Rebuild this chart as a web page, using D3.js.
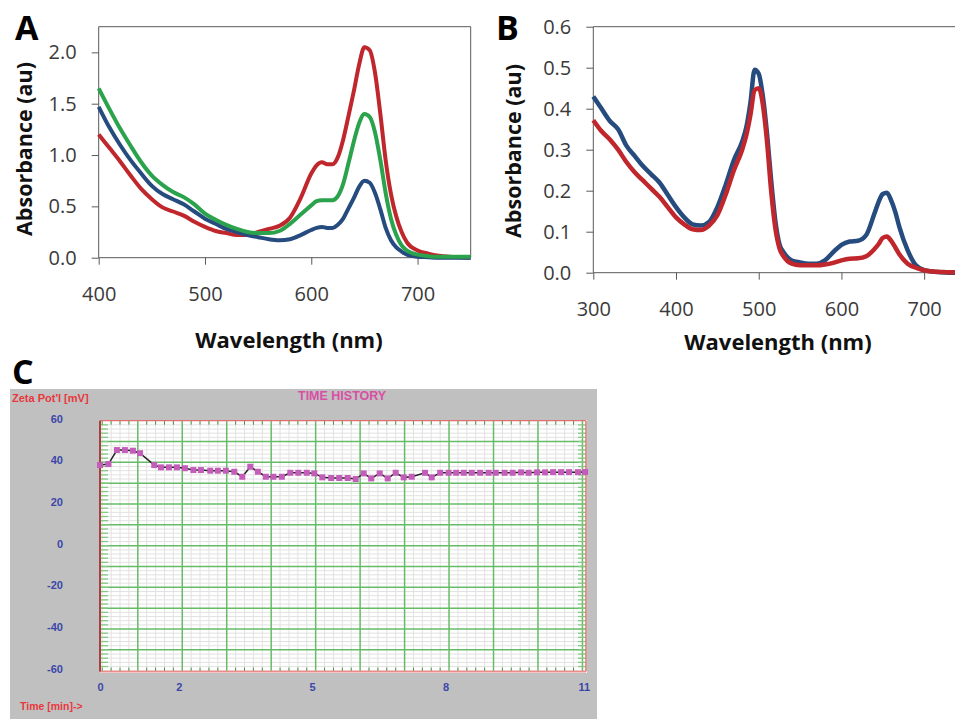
<!DOCTYPE html>
<html>
<head>
<meta charset="utf-8">
<script src="https://cdn.jsdelivr.net/npm/d3@7/dist/d3.min.js"></script>
<style>
  body { margin: 0; background: #fff; }
  svg { display: block; }
</style>
</head>
<body>
<svg id="chart" width="955" height="719"></svg>
<script>
// ---- panel A : spectra, three samples
var waveA = [400,410,420,430,440,450,460,470,480,490,500,510,520,530,540,550,560,570,580,590,600,605,610,615,620,625,630,635,640,645,650,655,660,665,670,675,680,685,690,700,710,720,730,740,750];
var redA = [1.20,1.07,0.94,0.80,0.67,0.57,0.49,0.45,0.41,0.35,0.30,0.26,0.24,0.22,0.22,0.25,0.28,0.31,0.39,0.58,0.82,0.90,0.93,0.91,0.91,0.98,1.15,1.38,1.62,1.88,2.05,2.02,1.80,1.40,0.95,0.62,0.40,0.25,0.15,0.07,0.04,0.02,0.01,0.005,0.0];
var blueA = [1.47,1.27,1.10,0.95,0.82,0.70,0.62,0.57,0.52,0.45,0.38,0.33,0.28,0.25,0.22,0.20,0.18,0.17,0.18,0.22,0.27,0.29,0.30,0.29,0.29,0.32,0.38,0.48,0.58,0.69,0.75,0.73,0.63,0.47,0.29,0.17,0.10,0.06,0.03,0.01,0.005,0,0,0,0];
var greenA = [1.65,1.45,1.26,1.09,0.93,0.80,0.71,0.64,0.59,0.52,0.43,0.37,0.32,0.28,0.25,0.24,0.24,0.26,0.33,0.42,0.51,0.55,0.56,0.56,0.56,0.60,0.72,0.92,1.13,1.31,1.40,1.37,1.22,0.95,0.63,0.38,0.22,0.12,0.07,0.03,0.015,0.01,0.01,0.01,0.01];
var xTicksA = [400,500,600,700];
var yTicksA = [0,0.5,1.0,1.5,2.0];

// ---- panel B : spectra, two samples
var waveB = [300,310,320,330,340,350,360,370,380,390,400,410,420,430,440,450,460,470,480,485,490,495,500,505,510,515,520,525,530,540,550,560,570,580,590,600,610,620,630,640,645,650,655,660,665,670,680,690,700,710,720,730,740,750];
var blueB = [0.43,0.40,0.37,0.35,0.31,0.285,0.26,0.24,0.22,0.19,0.16,0.135,0.118,0.115,0.124,0.16,0.214,0.275,0.32,0.355,0.415,0.495,0.485,0.43,0.34,0.226,0.128,0.07,0.05,0.03,0.025,0.022,0.022,0.03,0.05,0.068,0.076,0.078,0.092,0.145,0.173,0.192,0.195,0.177,0.149,0.112,0.055,0.018,0.006,0.003,0.001,0,0,0];
var redB = [0.372,0.345,0.325,0.30,0.27,0.245,0.225,0.205,0.185,0.16,0.135,0.118,0.106,0.104,0.115,0.14,0.19,0.25,0.30,0.335,0.385,0.445,0.45,0.41,0.32,0.20,0.11,0.06,0.04,0.022,0.018,0.018,0.018,0.02,0.024,0.03,0.034,0.035,0.04,0.058,0.07,0.085,0.088,0.078,0.062,0.045,0.022,0.012,0.006,0.003,0.002,0.001,0.001,0.001];
var xTicksB = [300,400,500,600,700];
var yTicksB = [0,0.1,0.2,0.3,0.4,0.5,0.6];

// ---- panel C : zeta potential time history
var timeC = [0.15,0.34,0.53,0.71,0.89,1.05,1.37,1.52,1.70,1.88,2.06,2.25,2.42,2.63,2.80,2.98,3.17,3.35,3.53,3.70,3.88,4.05,4.24,4.43,4.61,4.80,4.97,5.15,5.35,5.53,5.72,5.90,6.08,6.25,6.44,6.62,6.80,6.98,7.16,7.46,7.61,7.80,7.99,8.16,8.33,8.51,8.70,8.89,9.05,9.25,9.43,9.62,9.79,9.98,10.16,10.34,10.52,10.70,10.90,11.06];
var zetaC = [38.7,39.2,45.9,45.9,45.6,44.4,38.7,37.6,37.6,37.6,37.2,36.3,36.3,36.0,36.0,36.0,35.5,33.1,37.9,35.5,33.1,33.1,33.1,35.0,35.0,35.0,34.7,32.8,32.5,32.5,32.5,32.0,34.7,32.3,34.7,32.3,35.0,32.8,33.1,35.0,32.8,35.0,35.0,35.0,35.0,35.0,35.0,35.0,35.0,35.0,35.0,35.2,35.0,35.2,35.2,35.3,35.3,35.3,35.3,35.4];
var xTicksC = [0,2,5,8,11];
var yTicksC = [-60,-40,-20,0,20,40,60];

var RED = '#c0272d', BLUE = '#264b7e', GREEN = '#2ba24c';
var svg = d3.select('#chart');

var drawSpectrum = function(g, cfg) {
    var x = cfg.x, y = cfg.y;
    var x0 = x.range()[0], y0 = y.range()[0];

    // frame
    g.append('path')
        .attr('d', cfg.frame)
        .style('fill', 'none')
        .style('stroke', '#595959')
        .style('stroke-width', 1);

    var yAxis = g.append('g').attr('transform', 'translate(' + x0 + ',0)')
        .call(d3.axisLeft(y).tickValues(cfg.yTicks).tickSize(7).tickPadding(15).tickFormat(d3.format('.1f')));
    var xAxis = g.append('g').attr('transform', 'translate(0,' + y0 + ')')
        .call(d3.axisBottom(x).tickValues(cfg.xTicks).tickSize(7).tickPadding(22).tickFormat(d3.format('d')));
    [xAxis, yAxis].forEach(function(a) {
        a.select('.domain').remove();
        a.selectAll('line').style('stroke', '#595959');
        a.selectAll('text')
            .style('font-family', 'Open Sans')
            .style('font-size', '20px')
            .style('fill', '#3a3a3a');
    });

    var line = d3.line()
        .x(function(d) { return x(d[0]); })
        .y(function(d) { return y(d[1]); })
        .curve(d3.curveMonotoneX);
    cfg.series.forEach(function(s) {
        g.append('path')
            .datum(d3.zip(cfg.wave, s.values))
            .attr('d', line)
            .style('fill', 'none')
            .style('stroke', s.color)
            .style('stroke-width', cfg.lw)
            .style('stroke-linejoin', 'round');
    });

    g.append('text').text('Wavelength (nm)')
        .attr('x', cfg.xTitle[0]).attr('y', cfg.xTitle[1])
        .attr('text-anchor', 'middle')
        .style('font-family', 'Open Sans').style('font-weight', 'bold').style('font-size', '22px')
        .style('fill', '#111');
    g.append('text').text('Absorbance (au)')
        .attr('transform', 'translate(' + cfg.yTitle[0] + ',' + cfg.yTitle[1] + ') rotate(-90)')
        .attr('text-anchor', 'middle')
        .style('font-family', 'Open Sans').style('font-weight', 'bold').style('font-size', '21.5px')
        .style('fill', '#111');
};

// panel A
var xA = d3.scaleLinear().domain([400, 750]).range([98.7, 470.7]);
var yA = d3.scaleLinear().domain([0, 2.25]).range([257.7, 26.7]);
drawSpectrum(svg.append('g'), {
    x: xA, y: yA, wave: waveA, xTicks: xTicksA, yTicks: yTicksA, lw: 4,
    frame: 'M98.7,26.7H470.7V257.7H98.7Z',
    series: [{values: redA, color: RED}, {values: blueA, color: BLUE}, {values: greenA, color: GREEN}],
    xTitle: [289, 348], yTitle: [32, 149]
});

// panel B
var xB = d3.scaleLinear().domain([300, 750]).range([593.3, 965.5]);
var yB = d3.scaleLinear().domain([0, 0.6]).range([272.7, 26.7]);
drawSpectrum(svg.append('g'), {
    x: xB, y: yB, wave: waveB, xTicks: xTicksB, yTicks: yTicksB, lw: 4.5,
    frame: 'M960,26.7H593.3V272.7H960',
    series: [{values: blueB, color: BLUE}, {values: redB, color: RED}],
    xTitle: [778, 350], yTitle: [521, 151]
});

// panel letters
[['A', 15, 40], ['B', 496, 40], ['C', 12, 384]].forEach(function(p) {
    svg.append('text').text(p[0]).attr('x', p[1]).attr('y', p[2])
        .style('font-family', 'Open Sans').style('font-weight', 'bold').style('font-size', '34px')
        .style('fill', '#000');
});

// panel C
var gC = svg.append('g');
gC.append('rect').attr('x', 10).attr('y', 389).attr('width', 587).attr('height', 330).style('fill', '#c0c0c0');
gC.append('rect').attr('x', 100).attr('y', 420).attr('width', 487).attr('height', 253).style('fill', '#fff');

var xC = d3.scaleLinear().domain([0.15, 11.08]).range([100, 586]);
var yC = d3.scaleLinear().domain([-60, 60]).range([670.7, 420.7]);
var cl = 100, cr = 586, ct = 420.7, cb = 671.5;

var minorT = d3.range(0.2, 11.01, 0.2).filter(function(t) { return Math.abs(t - Math.round(t)) > 0.01; });
var majorT = d3.range(1, 12, 1);
var minorV = d3.range(-58, 60, 2).filter(function(v) { return v % 10 !== 0; });
var majorV = d3.range(-50, 60, 10);

gC.selectAll('.minor-v').data(minorT).enter().append('line')
    .attr('x1', function(d) { return xC(d); }).attr('x2', function(d) { return xC(d); })
    .attr('y1', ct).attr('y2', cb)
    .style('stroke', '#e2e2e2').style('stroke-width', 1);
gC.selectAll('.minor-h').data(minorV).enter().append('line')
    .attr('x1', cl).attr('x2', cr)
    .attr('y1', function(d) { return yC(d); }).attr('y2', function(d) { return yC(d); })
    .style('stroke', '#e2e2e2').style('stroke-width', 1);
gC.selectAll('.major-v').data(majorT).enter().append('line')
    .attr('x1', function(d) { return xC(d); }).attr('x2', function(d) { return xC(d); })
    .attr('y1', ct).attr('y2', cb)
    .style('stroke', '#66bb66').style('stroke-width', 1.5);
gC.selectAll('.major-h').data(majorV).enter().append('line')
    .attr('x1', cl).attr('x2', cr)
    .attr('y1', function(d) { return yC(d); }).attr('y2', function(d) { return yC(d); })
    .style('stroke', '#66bb66').style('stroke-width', 1.5);

// small ticks on the four sides
var sideV = d3.range(-58, 60, 2);
[[cl, cl + 8], [cr - 8, cr]].forEach(function(s) {
    gC.append('g').selectAll('line').data(sideV).enter().append('line')
        .attr('x1', s[0]).attr('x2', s[1])
        .attr('y1', function(d) { return yC(d); }).attr('y2', function(d) { return yC(d); })
        .style('stroke', '#84c984').style('stroke-width', 1.3);
});
[[ct, ct + 4], [cb - 4, cb]].forEach(function(s) {
    gC.append('g').selectAll('line').data(minorT).enter().append('line')
        .attr('x1', function(d) { return xC(d); }).attr('x2', function(d) { return xC(d); })
        .attr('y1', s[0]).attr('y2', s[1])
        .style('stroke', '#3c9a3c').style('stroke-width', 1);
});

// borders
gC.append('line').attr('x1', cl).attr('x2', cr).attr('y1', ct).attr('y2', ct).style('stroke', '#e07070').style('stroke-width', 1.2);
gC.append('line').attr('x1', cr).attr('x2', cr).attr('y1', ct).attr('y2', cb).style('stroke', '#e07070').style('stroke-width', 1.5);
gC.append('line').attr('x1', cl).attr('x2', cr).attr('y1', cb).attr('y2', cb).style('stroke', '#e88c8c').style('stroke-width', 2);
gC.append('line').attr('x1', cl).attr('x2', cl).attr('y1', ct).attr('y2', cb).style('stroke', '#a84040').style('stroke-width', 2);

// data
var zetaPts = d3.zip(timeC, zetaC);
gC.append('path').datum(zetaPts)
    .attr('d', d3.line().x(function(d) { return xC(d[0]); }).y(function(d) { return yC(d[1]); }))
    .style('fill', 'none').style('stroke', '#222').style('stroke-width', 1.5);
gC.selectAll('.pt').data(zetaPts).enter().append('rect')
    .attr('x', function(d) { return xC(d[0]) - 3; })
    .attr('y', function(d) { return yC(d[1]) - 3; })
    .attr('width', 6).attr('height', 6)
    .style('fill', '#c45cba');

// labels
var lbl = function(txt, x, y, color, size, anchor) {
    return gC.append('text').text(txt).attr('x', x).attr('y', y)
        .attr('text-anchor', anchor || 'start')
        .style('font-family', 'Liberation Sans, Arial, sans-serif')
        .style('font-weight', 'bold').style('font-size', size + 'px')
        .style('fill', color);
};
yTicksC.forEach(function(v) {
    lbl(String(v), 63, yC(v) + 2, '#3b47a8', 11, 'end');
});
xTicksC.forEach(function(t) {
    var px = t === 0 ? xC.range()[0] + 0.5 : (t === 11 ? xC(t) + 2 : xC(t) - 3);
    lbl(String(t), px, 691, '#3b47a8', 11, 'middle');
});
lbl("Zeta Pot'l [mV]", 12, 402, '#e8383d', 11);
lbl('TIME HISTORY', 298, 400, '#d94fa5', 12.5);
lbl('Time [min]->', 20, 710, '#e8383d', 10.5);
</script>
</body>
</html>
